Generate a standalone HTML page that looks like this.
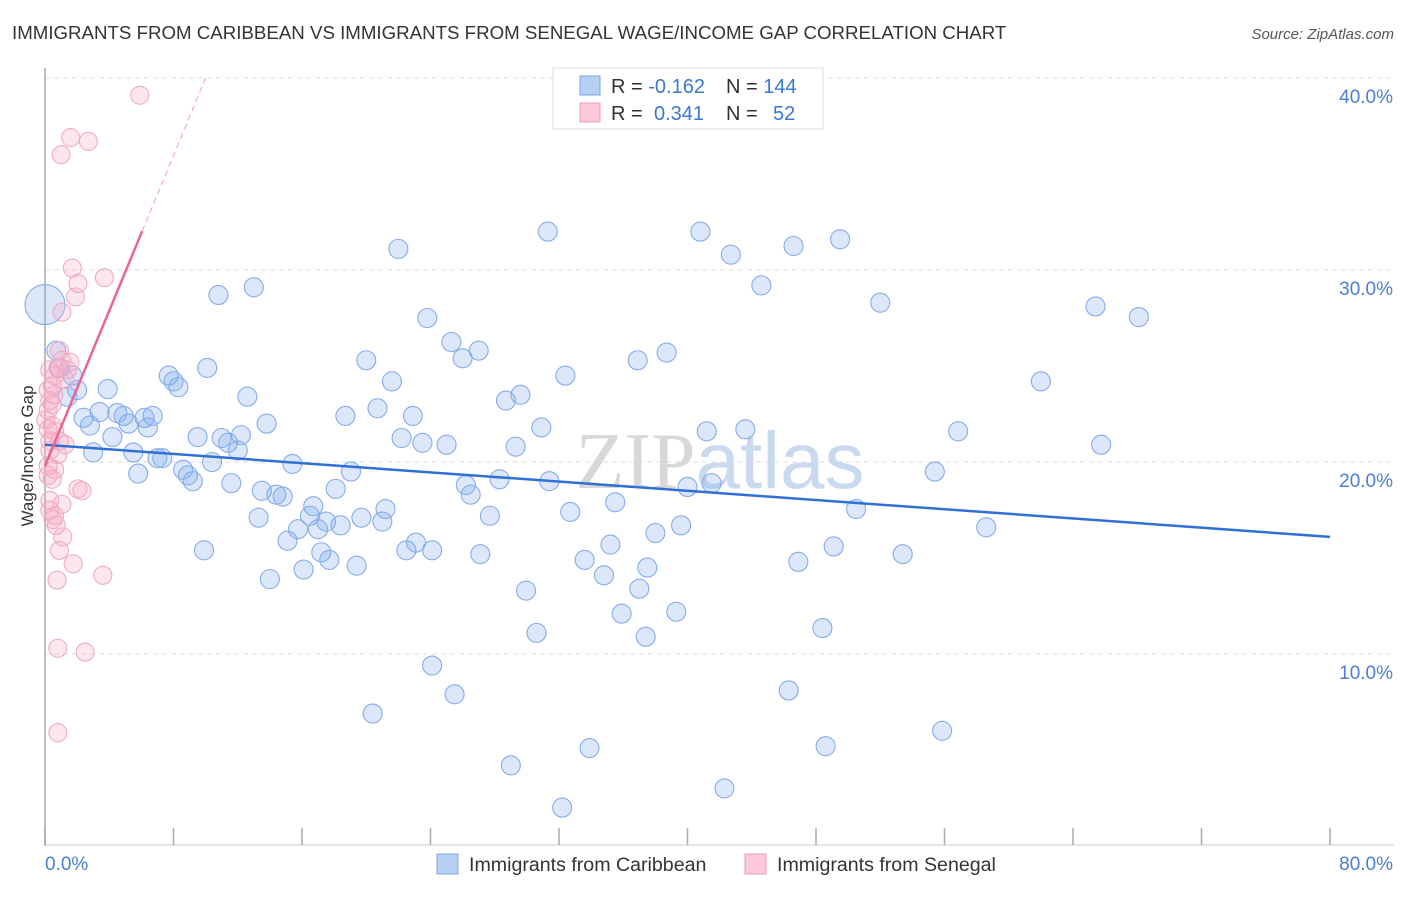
<!DOCTYPE html>
<html><head><meta charset="utf-8"><style>
body{margin:0;background:#fff;font-family:"Liberation Sans",sans-serif}
svg text{font-family:"Liberation Sans",sans-serif}
</style></head><body>
<svg id="chart" width="1406" height="892" xmlns="http://www.w3.org/2000/svg">
<text x="12" y="39" font-size="18.7" fill="#333">IMMIGRANTS FROM CARIBBEAN VS IMMIGRANTS FROM SENEGAL WAGE/INCOME GAP CORRELATION CHART</text>
<text x="1394" y="39" font-size="15" fill="#555" text-anchor="end" font-style="italic">Source: ZipAtlas.com</text>
<g id="grid"></g>
<text x="720" y="488" font-size="80" fill="#dde6f2" text-anchor="middle"><tspan font-family="Liberation Serif" fill="#d8d8d8">ZIP</tspan><tspan fill="#c9d9f0">atlas</tspan></text>
<g id="axes"></g>
<g id="points"></g>
<g id="trends"></g>
<text transform="translate(33,456) rotate(-90)" font-size="17" fill="#333" text-anchor="middle">Wage/Income Gap</text>
<g>
<rect x="553" y="68" width="270" height="61" fill="#fff" stroke="#ddd"/>
<rect x="580" y="76" width="20" height="19" fill="#b8d0f3" stroke="#7aa5e6"/>
<rect x="580" y="103" width="20" height="19" fill="#fbc9d8" stroke="#ee9ab5"/>
<text x="611" y="93" font-size="20" fill="#333">R = <tspan fill="#3a78d4">-0.162</tspan></text>
<text x="726" y="93" font-size="20" fill="#333">N = <tspan fill="#3a78d4">144</tspan></text>
<text x="611" y="120" font-size="20" fill="#333">R = </text><text x="654" y="120" font-size="20" fill="#3a78d4">0.341</text>
<text x="726" y="120" font-size="20" fill="#333">N = </text><text x="773" y="120" font-size="20" fill="#3a78d4">52</text>
</g>
<g>
<rect x="437" y="854" width="21" height="20" fill="#b8d0f3" stroke="#7aa5e6"/>
<text x="469" y="871" font-size="19.6" fill="#333">Immigrants from Caribbean</text>
<rect x="745" y="854" width="21" height="20" fill="#fbc9d8" stroke="#ee9ab5"/>
<text x="777" y="871" font-size="19.6" fill="#333">Immigrants from Senegal</text>
</g>
</svg>
<script>
const xTicks=[0,8,16,24,32,40,48,56,64,72,80];
const yTicks=[10,20,30,40];
const yTickLabels=["10.0%","20.0%","30.0%","40.0%"];
const xEndLabels=["0.0%","80.0%"];
const blueX=[0.0,0.7,0.9,1.7,2.0,1.4,2.4,2.8,3.0,3.9,3.4,4.2,4.5,4.9,5.2,5.5,5.8,6.2,6.4,6.7,7.0,7.3,7.7,8.0,8.3,8.6,8.9,9.2,9.5,9.9,10.1,10.4,10.8,11.0,11.4,11.6,12.0,12.2,12.6,13.0,13.3,13.5,13.8,14.0,14.4,14.8,15.1,15.4,15.75,16.1,16.5,16.7,17.0,17.2,17.5,17.7,18.1,18.4,18.7,19.05,19.4,19.7,20.0,20.4,20.7,21.0,21.2,21.6,22.0,22.2,22.5,22.9,23.1,23.5,23.8,24.1,24.1,25.0,25.3,25.5,26.0,26.2,26.5,27.0,27.1,27.7,28.3,28.7,29.0,29.6,29.3,29.95,30.6,30.9,31.3,31.4,32.2,32.4,32.7,33.6,33.9,34.8,35.2,35.5,35.9,36.9,37.0,37.4,37.5,38.0,38.7,39.3,39.6,40.0,40.8,41.2,41.5,42.3,42.7,43.6,44.6,46.3,46.6,46.9,48.4,48.6,49.1,49.5,50.5,52.0,53.4,55.4,55.85,56.85,58.6,62.0,65.4,65.75,68.1];
const blueY=[28.2,25.8,24.9,24.5,23.75,23.4,22.3,21.9,20.5,23.8,22.6,21.3,22.55,22.4,22.0,20.5,19.4,22.3,21.8,22.4,20.2,20.2,24.5,24.2,23.9,19.6,19.3,19.0,21.3,15.4,24.9,20.0,28.7,21.25,21.0,18.9,20.6,21.4,23.4,29.1,17.1,18.5,22.0,13.9,18.3,18.2,15.9,19.9,16.5,14.4,17.2,17.7,16.5,15.3,16.9,14.9,18.6,16.7,22.4,19.5,14.6,17.1,25.3,6.9,22.8,16.9,17.55,24.2,31.1,21.25,15.4,22.4,15.8,21.0,27.5,15.4,9.4,20.9,26.25,7.9,25.4,18.8,18.3,25.8,15.2,17.2,19.1,23.2,4.2,23.5,20.8,13.3,11.1,21.8,32.0,19.0,2.0,24.5,17.4,14.9,5.1,14.1,15.7,17.9,12.1,25.3,13.4,10.9,14.5,16.3,25.7,12.2,16.7,18.7,32.0,21.6,18.9,3.0,30.8,21.7,29.2,8.1,31.25,14.8,11.35,5.2,15.6,31.6,17.55,28.3,15.2,19.5,6.0,21.6,16.6,24.2,28.1,20.9,27.55];
const pinkX=[5.9,1.6,2.7,1.0,1.7,3.7,2.05,1.9,1.05,0.9,1.05,0.8,0.6,0.45,0.3,0.2,0.45,0.6,0.9,1.25,0.3,0.8,0.2,0.6,0.45,2.05,2.3,0.3,0.6,0.5,0.7,1.1,0.9,1.75,3.6,0.75,0.8,2.5,0.8,0.3,0.2,1.25,1.4,1.55,0.2,0.3,0.45,0.55,0.2,0.3,0.05,1.05];
const pinkY=[39.1,36.9,36.7,36.0,30.1,29.6,29.3,28.6,27.8,25.8,25.3,24.9,24.5,24.0,23.2,22.7,21.9,21.6,21.1,20.9,20.6,20.4,19.8,19.6,19.1,18.6,18.5,18.0,17.2,17.0,16.7,16.1,15.4,14.7,14.1,13.85,10.3,10.1,5.9,24.8,23.75,24.3,24.8,25.2,21.7,21.1,23.0,23.5,19.3,17.5,22.2,17.8];
const blueTrend=[20.9,16.1];
const pinkTrend=[19.8,2.02];

const X0=45,X1=1330,YB=846;
const sx=v=>X0+(v/80)*(X1-X0);
const sy=v=>YB-v*19.2;
const NS="http://www.w3.org/2000/svg";
function mk(tag,attrs,parent){const e=document.createElementNS(NS,tag);for(const k in attrs)e.setAttribute(k,attrs[k]);parent.appendChild(e);return e;}
const grid=document.getElementById('grid'),axes=document.getElementById('axes'),pts=document.getElementById('points'),tr=document.getElementById('trends');
yTicks.forEach((t,i)=>{
 const l=mk('line',{x1:X0,x2:1394,y1:sy(t),y2:sy(t),stroke:'#ddd','stroke-dasharray':'5,4'},grid);
 
 
 const tx=mk('text',{x:1393,y:sy(t)+25,'font-size':19,fill:'#4a7fd0','text-anchor':'end'},axes);
 tx.textContent=yTickLabels[i];
 
 
});
const ya=mk('line',{x1:X0,x2:X0,y1:68,y2:846,stroke:'#aaa','stroke-width':1.5},axes);


const xa=mk('line',{x1:X0,x2:1394,y1:845,y2:845,stroke:'#ccc'},axes);


xTicks.forEach(t=>{
 const l=mk('line',{x1:sx(t),x2:sx(t),y1:828,y2:845,stroke:'#aaa','stroke-width':1.5},axes);
 
 
});
[[0,'start',45],[80,'end',1393]].forEach((d,i)=>{
 const tx=mk('text',{x:d[2],y:870,'font-size':19,fill:'#4a7fd0','text-anchor':d[1]},axes);
 tx.textContent=xEndLabels[i];
 
 
});
blueX.forEach((v,i)=>{
 const c=mk('circle',{cx:sx(v),cy:sy(blueY[i]),r:i===0?20:9.5,fill:'rgba(130,172,238,0.28)',stroke:'#85aceb','stroke-width':1.1},pts);
 
 
});
pinkX.forEach((v,i)=>{
 const c=mk('circle',{cx:sx(v),cy:sy(pinkY[i]),r:9,fill:'rgba(247,170,198,0.28)',stroke:'#f0abc2','stroke-width':1.1},pts);
 
 
});
const bt=mk('line',{x1:sx(0),y1:sy(blueTrend[0]),x2:sx(80),y2:sy(blueTrend[1]),stroke:'#2f6fd6','stroke-width':2.5},tr);


const pf=x=>pinkTrend[0]+pinkTrend[1]*x;
const ps=mk('line',{x1:sx(0),y1:sy(pf(0)),x2:sx(6.05),y2:sy(pf(6.05)),stroke:'#e8668f','stroke-width':2.5},tr);


const pd=mk('line',{x1:sx(6.05),y1:sy(pf(6.05)),x2:sx(10),y2:sy(pf(10)),stroke:'#eea0ba','stroke-width':1,'stroke-dasharray':'6,4'},tr);


</script>
</body></html>
